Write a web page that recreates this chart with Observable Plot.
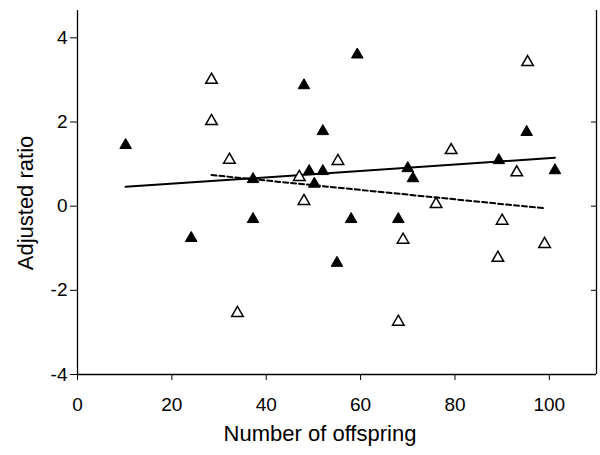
<!DOCTYPE html>
<html>
<head>
<meta charset="utf-8">
<script src="https://cdn.jsdelivr.net/npm/d3@7"></script>
<script src="https://cdn.jsdelivr.net/npm/@observablehq/plot@0.6"></script>
<style>
  html, body { margin: 0; padding: 0; background: #fff; }
  #chart svg { display: block; }
</style>
</head>
<body>
<div id="chart"></div>
<script>
// Filled triangles
const filledX = [10.2, 24.1, 37.2, 37.2, 48.0, 49.1, 50.2, 52.0, 52.0, 55.0, 58.0, 59.3, 68.0, 70.0, 71.1, 89.3, 95.2, 101.2];
const filledY = [1.45, -0.76, 0.64, -0.31, 2.87, 0.83, 0.53, 1.78, 0.83, -1.35, -0.31, 3.60, -0.31, 0.90, 0.66, 1.09, 1.76, 0.85];
// Open triangles
const openX = [28.4, 28.4, 32.2, 33.9, 47.0, 48.0, 55.2, 69.0, 68.0, 76.0, 79.2, 90.0, 89.1, 93.1, 95.4, 99.0];
const openY = [3.00, 2.02, 1.10, -2.54, 0.69, 0.12, 1.07, -0.80, -2.75, 0.05, 1.33, -0.35, -1.23, 0.80, 3.42, -0.90];
// Regression lines (endpoints)
const solidX = [10.2, 101.2];
const solidY = [0.46, 1.15];
const dashedX = [28.4, 99.0];
const dashedY = [0.74, -0.05];
// Axes
const xTicks = [0, 20, 40, 60, 80, 100];
const yTicks = [-4, -2, 0, 2, 4];
const rightTicks = [-2, 0, 2];
const xDomain = [0, 110];
const yDomain = [-4, 4.65];

const filled = filledX.map((x, i) => ({x, y: filledY[i]}));
const open = openX.map((x, i) => ({x, y: openY[i]}));
const solid = solidX.map((x, i) => ({x, y: solidY[i]}));
const dashed = dashedX.map((x, i) => ({x, y: dashedY[i]}));

const FONT = "'Liberation Sans', Arial, sans-serif";

const plot = Plot.plot({
  width: 600,
  height: 455,
  marginLeft: 77,
  marginRight: 4,
  marginTop: 10,
  marginBottom: 81,
  style: {fontFamily: FONT, fontSize: "19px", color: "#000", background: "#fff"},
  x: {domain: xDomain},
  y: {domain: yDomain},
  marks: [
    Plot.axisX({ticks: xTicks, tickSize: 6, tickPadding: 17, fontSize: 19, label: null}),
    Plot.axisY({ticks: yTicks, tickSize: 7, tickPadding: 3, fontSize: 19, label: null, tickFormat: d => String(d)}),
    Plot.axisY({anchor: "right", ticks: rightTicks, tickSize: -6, tickFormat: () => "", label: null}),
    Plot.ruleX([xDomain[0]], {stroke: "#000", strokeWidth: 1.3}),
    Plot.ruleX([xDomain[1]], {stroke: "#000", strokeWidth: 1.3}),
    Plot.ruleY([yDomain[0]], {stroke: "#000", strokeWidth: 1.3}),
    Plot.line(solid, {x: "x", y: "y", stroke: "#000", strokeWidth: 2}),
    Plot.line(dashed, {x: "x", y: "y", stroke: "#000", strokeWidth: 2, strokeDasharray: "5,3"}),
    Plot.dot(open, {x: "x", y: "y", symbol: "triangle", r: 4.3, fill: "#fff", stroke: "#000", strokeWidth: 1.5}),
    Plot.dot(filled, {x: "x", y: "y", symbol: "triangle", r: 4.3, fill: "#000", stroke: "#000", strokeWidth: 1})
  ]
});

// Axis titles as real text
const svg = d3.select(plot);
svg.append("text")
  .attr("x", 320).attr("y", 441)
  .attr("text-anchor", "middle")
  .attr("font-size", 22)
  .attr("font-family", FONT)
  .attr("fill", "#000")
  .text("Number of offspring");
svg.append("text")
  .attr("transform", "translate(33,203) rotate(-90)")
  .attr("text-anchor", "middle")
  .attr("font-size", 22)
  .attr("font-family", FONT)
  .attr("fill", "#000")
  .text("Adjusted ratio");

document.getElementById("chart").appendChild(plot);
</script>
</body>
</html>
